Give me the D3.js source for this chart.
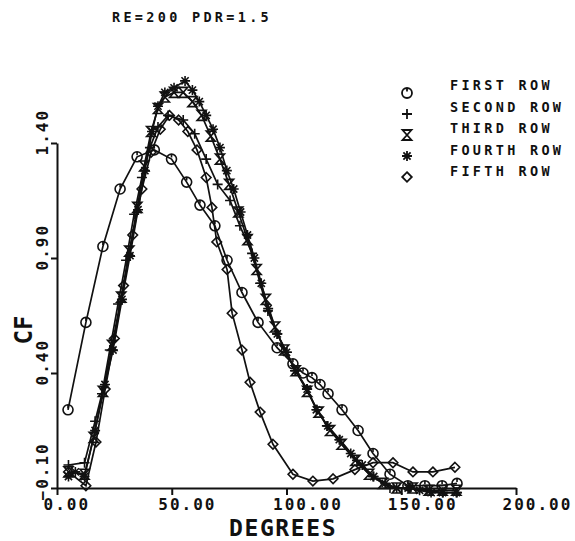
<!DOCTYPE html>
<html>
<head>
<meta charset="utf-8">
<script src="https://cdn.jsdelivr.net/npm/d3@7"></script>
<style>
  body { margin: 0; background: #fff; }
  text { font-family: "DejaVu Sans Mono", monospace; fill: #111; font-weight: bold; }
</style>
</head>
<body>
<div id="chart"></div>
<script>
// chart data: [degrees, CF]
const firstRow = [[4.8,0.24],[12.6,0.62],[20.0,0.95],[27.5,1.20],[34.9,1.34],[42.4,1.37],[49.9,1.33],[56.5,1.23],
  [62.3,1.13],[68.8,1.04],[74.1,0.89],[80.6,0.75],[87.6,0.62],[95.9,0.51],[102.8,0.44],[107.2,0.40],[111.1,0.38],
  [114.6,0.35],[118.1,0.31],[124.2,0.24],[131.2,0.15],[137.7,0.05],[145.1,-0.04],[152.9,-0.09],[160.3,-0.09],
  [167.8,-0.09],[174.3,-0.08]];
const secondRow = [[5,0.0],[12,0.01],[16.6,0.19],[19.6,0.31],[23,0.5],[26.6,0.7],[30.1,0.89],[33.6,1.09],[37,1.25],
  [40.5,1.38],[44,1.47],[48.4,1.52],[55,1.50],[60,1.44],[65,1.33],[70,1.22],[75.4,1.15],[79.7,1.04],[85,0.92],
  [88.5,0.79],[91.9,0.67],[95.9,0.57],[100.2,0.49],[103.7,0.41],[108.9,0.33],[113.3,0.24],[117.6,0.17],[123.3,0.11],
  [130.7,0.02],[137.7,-0.05],[145.1,-0.1],[153.8,-0.1],[161.2,-0.11],[168.2,-0.12],[174.3,-0.12]];
const thirdRow = [[5,-0.03],[12,-0.04],[16,0.12],[20,0.32],[24,0.52],[28,0.73],[31.5,0.93],[35,1.12],[38,1.3],
  [41,1.45],[44,1.55],[47,1.6],[51,1.62],[55,1.62],[59,1.58],[63,1.52],[67,1.43],[71,1.33],[75,1.22],[79,1.1],
  [83,0.98],[87,0.85],[91,0.72],[95,0.6],[99,0.5],[104,0.41],[109,0.32],[114,0.23],[119,0.15],[124,0.09],
  [130,0.02],[136,-0.04],[142,-0.08],[148,-0.1],[155,-0.1],[162,-0.11],[168,-0.11],[174,-0.11]];
const fourthRow = [[5,-0.05],[8,-0.03],[12,-0.05],[16.6,0.15],[20.9,0.35],[24.4,0.5],[28.3,0.72],[31.8,0.91],
  [35.3,1.11],[38.3,1.28],[41.4,1.45],[44,1.56],[47,1.62],[51,1.64],[55.8,1.67],[59,1.63],[62,1.58],[65,1.52],
  [68,1.46],[71,1.38],[74,1.28],[77,1.2],[80,1.1],[83,1.0],[86,0.9],[89,0.79],[92,0.68],[96,0.57],[100,0.49],
  [104,0.41],[109,0.33],[113,0.24],[118,0.17],[123,0.11],[128,0.05],[133,0.0],[138,-0.05],[143,-0.08],[148,-0.1],
  [153,-0.1],[158,-0.11],[163,-0.12],[168,-0.12],[174,-0.12]];
const fifthRow = [[5,-0.03],[12.6,-0.09],[17,0.1],[21,0.33],[25,0.55],[29,0.78],[33,1.0],[37,1.2],[41,1.36],
  [45,1.46],[49,1.52],[53,1.5],[57,1.45],[61,1.37],[65,1.25],[67.5,1.12],[69.6,0.97],[74.1,0.85],[76.3,0.66],
  [80.6,0.5],[84.1,0.36],[88.5,0.23],[94.1,0.09],[102.8,-0.04],[111.5,-0.07],[120.3,-0.06],[129.8,-0.02],
  [137.7,0.01],[146.4,0.01],[155.1,-0.03],[163.8,-0.03],[173.4,-0.01]];

const rowNames = ["FIRST ROW", "SECOND ROW", "THIRD ROW", "FOURTH ROW", "FIFTH ROW"];
const rowMarkers = ["circle", "plus", "hourglass", "star", "diamond"];
const xTicks = [0, 50, 100, 150, 200];
const yTicks = [-0.10, 0.40, 0.90, 1.40];
const title = "RE=200 PDR=1.5";

const width = 575, height = 541;

const xScale = d3.scaleLinear().domain([0, 200]).range([57, 516]);
const yScale = d3.scaleLinear().domain([-0.1, 1.4]).range([488, 143]);

const svg = d3.select("#chart").append("svg")
  .attr("width", width)
  .attr("height", height);

// plotter style markers
function markerPath(type) {
  switch (type) {
    case "circle": return d3.arc()({innerRadius: 0, outerRadius: 5, startAngle: 0, endAngle: 2 * Math.PI}) + "M0,-5V-1.5";
    case "plus": return "M-5,0H5M0,-5V5";
    case "hourglass": return "M-4.5,-5H4.5L-4.5,5H4.5Z";
    case "star": return "M-5,0H5M0,-5V5M-3.6,-3.6L3.6,3.6M-3.6,3.6L3.6,-3.6";
    case "diamond": return "M0,-4.8L4.8,0L0,4.8L-4.8,0Z";
  }
}

const line = d3.line()
  .x(d => xScale(d[0]))
  .y(d => yScale(d[1]));

const rows = [firstRow, secondRow, thirdRow, fourthRow, fifthRow];

rows.forEach((data, i) => {
  svg.append("path")
    .datum(data)
    .attr("d", line)
    .attr("fill", "none")
    .attr("stroke", "#111")
    .attr("stroke-width", 1.7);

  svg.selectAll(".m" + i)
    .data(data)
    .enter().append("path")
    .attr("class", "m" + i)
    .attr("transform", d => `translate(${xScale(d[0])},${yScale(d[1])})`)
    .attr("d", markerPath(rowMarkers[i]))
    .attr("fill", "none")
    .attr("stroke", "#111")
    .attr("stroke-width", 1.6);
});

// axes
const xAxis = svg.append("g")
  .attr("transform", "translate(0,488)")
  .call(d3.axisBottom(xScale).tickValues(xTicks).tickSize(7).tickSizeOuter(0).tickFormat(d3.format(".2f")));
const yAxis = svg.append("g")
  .attr("transform", "translate(57,0)")
  .call(d3.axisLeft(yScale).tickValues(yTicks).tickSize(6).tickSizeOuter(0).tickFormat(d3.format(".2f")));

[xAxis, yAxis].forEach(ax => {
  ax.select(".domain").attr("stroke", "#111").attr("stroke-width", 2);
  ax.selectAll(".tick line").attr("stroke", "#111").attr("stroke-width", 2);
});

// labels start about one character before the tick, like the plotter did
xAxis.selectAll(".tick text")
  .attr("x", -14)
  .attr("y", 22)
  .attr("dy", null)
  .attr("text-anchor", "start")
  .style("font-size", "16px")
  .style("letter-spacing", "2px");

yAxis.selectAll(".tick text")
  .attr("x", null)
  .attr("dy", null)
  .attr("transform", "translate(-9,12) rotate(-90)")
  .attr("text-anchor", "start")
  .style("font-size", "16px")
  .style("letter-spacing", "2px");

// axis titles
svg.append("text")
  .attr("x", 229)
  .attr("y", 536)
  .style("font-size", "23px")
  .style("letter-spacing", "1.6px")
  .text("DEGREES");

svg.append("text")
  .attr("transform", "translate(32,330) rotate(-90)")
  .attr("text-anchor", "middle")
  .style("font-size", "24px")
  .text("CF");

svg.append("text")
  .attr("x", 112)
  .attr("y", 22)
  .style("font-size", "13.5px")
  .style("letter-spacing", "3.3px")
  .text(title);

// legend
const legend = svg.selectAll(".legend")
  .data(rowNames)
  .enter().append("g")
  .attr("class", "legend");

legend.append("path")
  .attr("transform", (d, i) => `translate(407,${93 + i * 21})`)
  .attr("d", (d, i) => markerPath(rowMarkers[i]))
  .attr("fill", "none")
  .attr("stroke", "#111")
  .attr("stroke-width", 1.8);

legend.append("text")
  .attr("x", 450)
  .attr("y", (d, i) => 90 + i * 21.5)
  .style("font-size", "13.5px")
  .style("letter-spacing", "3.3px")
  .text(d => d);
</script>
</body>
</html>
